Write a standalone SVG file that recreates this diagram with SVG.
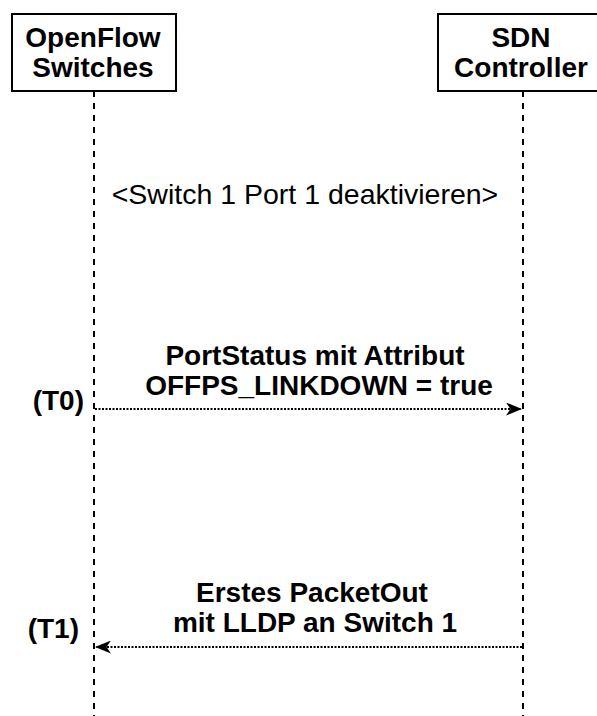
<svg xmlns="http://www.w3.org/2000/svg" width="597" height="716" viewBox="0 0 597 716">
<defs>
<style>
.box{fill:#fff;stroke:#000;stroke-width:2}
.life{stroke:#000;stroke-width:2;stroke-dasharray:6 6;fill:none}
.msg{stroke:#000;stroke-width:2;stroke-dasharray:2 1.5;fill:none}
.t{font-family:"Liberation Sans",Arial,sans-serif;font-size:28px;fill:#000}
.b{font-weight:bold}
</style>
<marker id="arr" viewBox="0 0 16 13" refX="16" refY="6.5" markerWidth="16" markerHeight="13" markerUnits="userSpaceOnUse" orient="auto">
<path d="M0,0 L16,6.5 L0,13 L4.5,6.5 Z" fill="#000"/>
</marker>
</defs>
<rect width="597" height="716" fill="#fff"/>
<g id="connectors">
<line class="life" x1="94" y1="91" x2="94" y2="716"/>
<line class="life" x1="523" y1="91" x2="523" y2="716"/>
<line class="msg" x1="95" y1="409" x2="522" y2="409" marker-end="url(#arr)"/>
<line class="msg" x1="522" y1="647" x2="95" y2="647" marker-end="url(#arr)"/>
</g>
<g id="node-switches">
<rect class="box" x="12" y="14" width="164" height="77"/>
<text class="t b" x="93" y="47" text-anchor="middle">OpenFlow</text>
<text class="t b" x="93" y="77" text-anchor="middle">Switches</text>
</g>
<g id="node-controller">
<rect class="box" x="438" y="14" width="170" height="77"/>
<text class="t b" x="521" y="47" text-anchor="middle">SDN</text>
<text class="t b" x="521" y="77" text-anchor="middle">Controller</text>
</g>
<g id="labels">
<text class="t" x="305" y="204" text-anchor="middle" style="font-size:28.5px">&lt;Switch 1 Port 1 deaktivieren&gt;</text>
<text class="t b" x="315" y="365" text-anchor="middle">PortStatus mit Attribut</text>
<text class="t b" x="319" y="395" text-anchor="middle">OFFPS_LINKDOWN = true</text>
<text class="t b" x="84" y="410" text-anchor="end">(T0)</text>
<text class="t b" x="312" y="602" text-anchor="middle">Erstes PacketOut</text>
<text class="t b" x="315" y="632" text-anchor="middle">mit LLDP an Switch 1</text>
<text class="t b" x="79" y="638" text-anchor="end">(T1)</text>
</g>
</svg>
